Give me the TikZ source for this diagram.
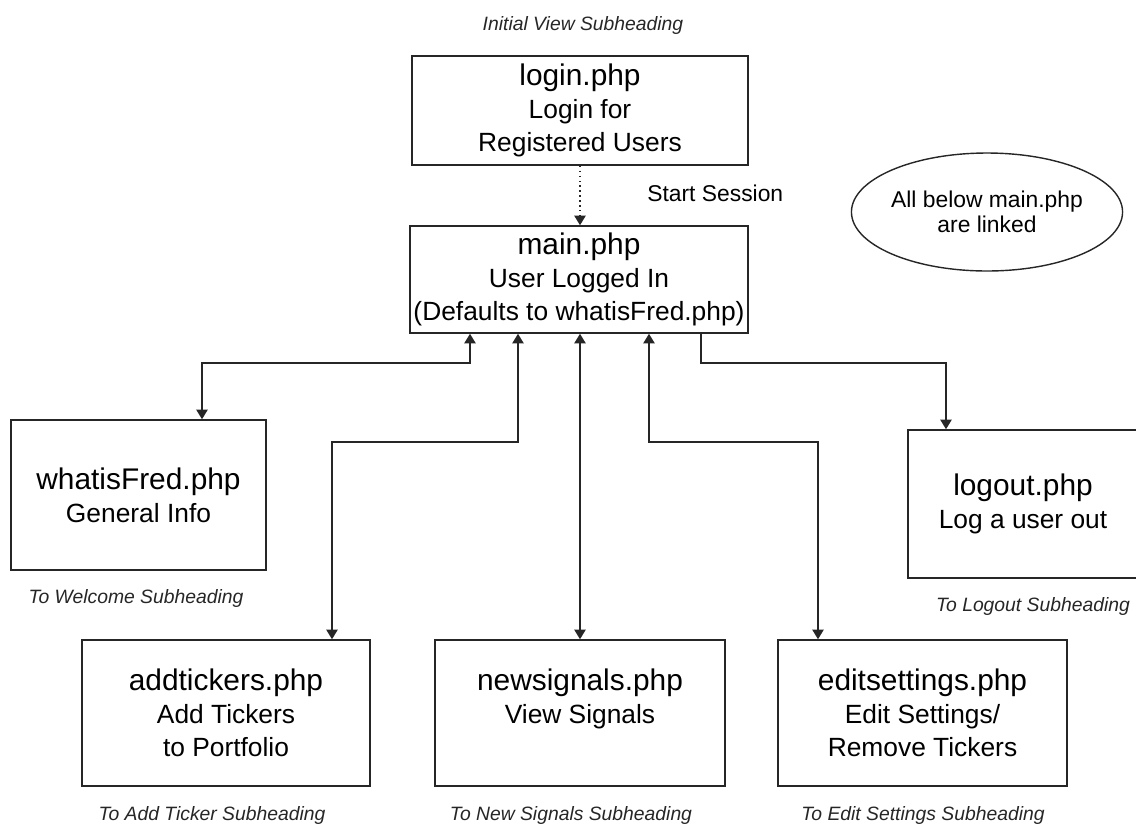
\documentclass[tikz,border=0pt]{standalone}
\usepackage{fontspec}
\setmainfont{Liberation Sans}
\usetikzlibrary{arrows.meta,shapes.geometric}

\tikzset{
	pagebox/.style={draw=black!85, line width=0.9pt, inner sep=0pt, align=center, font=\fontsize{15}{18.7}\selectfont},
	subhead/.style={font=\fontsize{11}{13}\selectfont\itshape, text=black!85, inner sep=0pt},
	link/.style={draw=black!85, line width=0.8pt},
	tip/.tip={Triangle[width=6.5pt,length=5.5pt]}
}
\newcommand{\pagename}[1]{{\fontsize{17}{18.7}\selectfont #1}}

\begin{document}
\begin{tikzpicture}[x=0.02cm, y=-0.02cm]
	\useasboundingbox (0,0) rectangle (1136,823);
	% Boxes
	\node[pagebox, minimum width=6.72cm, minimum height=2.18cm] at (580,110.5) (login) {\pagename{login.php}\\Login for\\Registered Users};
	\node[pagebox, minimum width=6.76cm, minimum height=2.14cm] at (579,279.5) (main) {\pagename{main.php}\\User Logged In\\(Defaults to whatisFred.php)};
	\node[pagebox, minimum width=5.10cm, minimum height=3.00cm] at (138.5,495) (whatis) {\pagename{whatisFred.php}\\General Info};
	\node[pagebox, minimum width=4.60cm, minimum height=2.96cm] at (1023,504) (logout) {\pagename{logout.php}\\Log a user out};
	\node[pagebox, minimum width=5.76cm, minimum height=2.92cm] at (226,713) (addt) {\pagename{addtickers.php}\\Add Tickers\\to Portfolio};
	\node[pagebox, minimum width=5.80cm, minimum height=2.92cm] at (580,713) (news) {\pagename{newsignals.php}\\View Signals\\\mbox{}};
	\node[pagebox, minimum width=5.78cm, minimum height=2.92cm] at (922.5,713) (edit) {\pagename{editsettings.php}\\Edit Settings/\\Remove Tickers};
	% Note
	\node[ellipse, draw=black!85, line width=0.8pt, inner sep=0pt, minimum width=4.8cm, minimum height=2.36cm, align=center, font=\fontsize{13}{14.5}\selectfont] at (987,212) (note) {All below main.php\\are linked};
	% Subheadings
	\node[subhead] at (583,25) (subinit) {Initial View Subheading};
	\node[subhead] at (136,598) (subwelcome) {To Welcome Subheading};
	\node[subhead] at (1033,606) (sublogout) {To Logout Subheading};
	\node[subhead] at (212,815) (subadd) {To Add Ticker Subheading};
	\node[subhead] at (571,815) (subnew) {To New Signals Subheading};
	\node[subhead] at (923,815) (subedit) {To Edit Settings Subheading};
	% Session
	\draw[link, dotted, -tip] (login.south) -- (login.south |- main.north);
	\node[anchor=west, inner sep=0pt, font=\fontsize{13}{15}\selectfont] at (647,193) (session) {Start Session};
	% Bend points
	\coordinate (wA) at (470,363);
	\coordinate (wB) at (202,363);
	\coordinate (aA) at (518,442);
	\coordinate (aB) at (332,442);
	\coordinate (eA) at (649,442);
	\coordinate (eB) at (818,442);
	\coordinate (lA) at (701,363);
	\coordinate (lB) at (946,363);
	% Links
	\draw[link, tip-tip] (main.south -| wA) -- (wA) -- (wB) -- (whatis.north -| wB);
	\draw[link, tip-tip] (main.south -| aA) -- (aA) -- (aB) -- (addt.north -| aB);
	\draw[link, tip-tip] (main.south -| news.north) -- (news.north);
	\draw[link, tip-tip] (main.south -| eA) -- (eA) -- (eB) -- (edit.north -| eB);
	\draw[link, -tip] (main.south -| lA) -- (lA) -- (lB) -- (logout.north -| lB);
\end{tikzpicture}
\end{document}
